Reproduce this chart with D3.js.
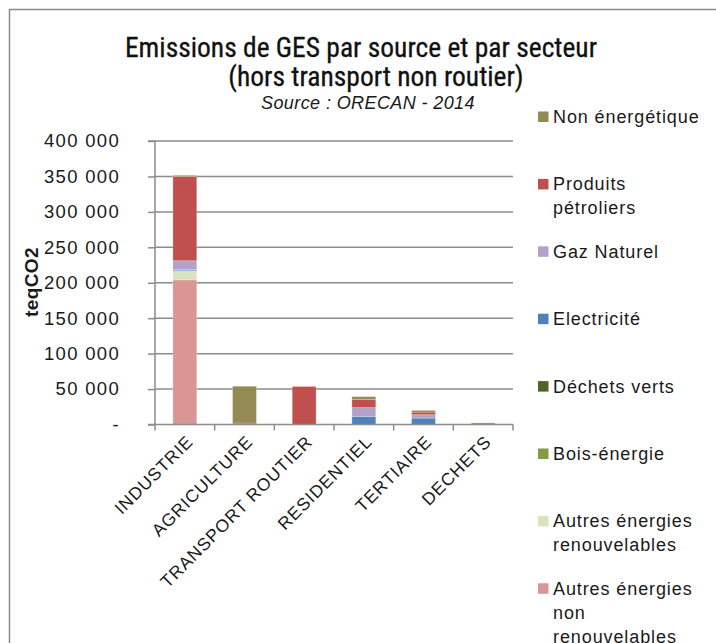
<!DOCTYPE html>
<html><head><meta charset="utf-8">
<script src="https://cdn.jsdelivr.net/npm/d3@7/dist/d3.min.js"></script>
<style>
html,body{margin:0;padding:0;background:#fff;overflow:hidden;}
svg{display:block;}
</style></head>
<body>
<svg id="chart" width="716" height="643"></svg>
<script>
// ---- data ----
const sectors = ["INDUSTRIE","AGRICULTURE","TRANSPORT ROUTIER","RESIDENTIEL","TERTIAIRE","DECHETS"];
const autresNonEnR   = [204000, 0, 0, 0, 0, 0];
const autresEnR      = [13000, 0, 0, 0, 0, 0];
const boisEnergie    = [0, 0, 0, 0, 0, 2200];
const dechetsVerts   = [0, 0, 0, 0, 0, 0];
const electricite    = [1500, 0, 0, 11500, 9000, 0];
const gazNaturel     = [12500, 0, 0, 12300, 4800, 0];
const petroliers     = [119000, 2000, 53600, 11700, 3700, 0];
const nonEnergetique = [1500, 52000, 0, 3800, 2400, 0];
const yTicks = [0, 50000, 100000, 150000, 200000, 250000, 300000, 350000, 400000];

const series = [
  {name:"Autres énergies non renouvelables", lines:["Autres énergies","non","renouvelables"], values:autresNonEnR, color:"#D99694"},
  {name:"Autres énergies renouvelables", lines:["Autres énergies","renouvelables"], values:autresEnR, color:"#D7E4BD"},
  {name:"Bois-énergie", lines:["Bois-énergie"], values:boisEnergie, color:"#7F9D44"},
  {name:"Déchets verts", lines:["Déchets verts"], values:dechetsVerts, color:"#4F6228"},
  {name:"Electricité", lines:["Electricité"], values:electricite, color:"#4F81BD"},
  {name:"Gaz Naturel", lines:["Gaz Naturel"], values:gazNaturel, color:"#B3A2C7"},
  {name:"Produits pétroliers", lines:["Produits","pétroliers"], values:petroliers, color:"#C0504D"},
  {name:"Non énergétique", lines:["Non énergétique"], values:nonEnergetique, color:"#948A54"}
];

const svg = d3.select("#chart");
const labelFont = "'Liberation Sans', Arial, sans-serif";
const titleFont = "'Roboto Condensed', 'Liberation Sans Narrow', 'Arial Narrow', sans-serif";

// outer frame
svg.append("rect").attr("x",9.5).attr("y",9.5).attr("width",740).attr("height",700)
  .attr("fill","none").attr("stroke","#8a8a8a").attr("stroke-width",1.5);

const x0 = 155, x1 = 513, yTop = 141, yBot = 424.5;
const x = d3.scaleBand().domain(sectors).range([x0, x1]).paddingInner(0.6).paddingOuter(0.3);
const y = d3.scaleLinear().domain([0, 400000]).range([yBot, yTop]);

// gridlines
svg.append("g").selectAll("line").data(yTicks.filter(d=>d>0)).join("line")
  .attr("x1", x0).attr("x2", x1).attr("y1", d=>y(d)).attr("y2", d=>y(d))
  .attr("stroke","#8c8c8c").attr("stroke-width",1.5);

// stacked bars
const rows = sectors.map((s,i)=>{ const r={sector:s}; series.forEach(se=>r[se.name]=se.values[i]); return r; });
const stack = d3.stack().keys(series.map(s=>s.name))(rows);
const gBars = svg.append("g");
stack.forEach((layer,k)=>{
  gBars.append("g").attr("fill", series[k].color).selectAll("rect").data(layer.filter(d=>d[1]>d[0])).join("rect")
    .attr("x", d=>x(d.data.sector))
    .attr("width", x.bandwidth())
    .attr("y", d=>y(d[1]))
    .attr("height", d=>Math.max(0, y(d[0])-y(d[1])))
    .attr("stroke","#ffffff").attr("stroke-opacity",0.3).attr("stroke-width",0.8);
});

// y axis
const yAxis = d3.axisLeft(y).tickValues(yTicks).tickSize(7).tickPadding(28)
  .tickFormat(d => d===0 ? "-" : d3.format(",")(d).replace(/,/g," "));
const gy = svg.append("g").attr("transform",`translate(${x0},0)`).call(yAxis);
gy.select(".domain").attr("stroke","#8c8c8c").attr("stroke-width",1.5).attr("d",`M-7,${yTop}H0V${yBot}H-7`);
gy.selectAll(".tick line").attr("stroke","#8c8c8c").attr("stroke-width",1.5);
gy.selectAll(".tick text").attr("font-family",labelFont).attr("font-size","18.5px")
  .attr("letter-spacing","1.3px").attr("fill","#1a1a1a");

// x axis baseline + ticks at boundaries
const bounds = d3.range(sectors.length+1).map(i=> x0 + i*(x1-x0)/sectors.length);
svg.append("line").attr("x1",x0).attr("x2",x1).attr("y1",yBot).attr("y2",yBot)
  .attr("stroke","#8c8c8c").attr("stroke-width",1.5);
svg.append("g").selectAll("line").data(bounds).join("line")
  .attr("x1",d=>d).attr("x2",d=>d).attr("y1",yBot).attr("y2",yBot+6)
  .attr("stroke","#8c8c8c").attr("stroke-width",1.5);

// x labels
svg.append("g").selectAll("text").data(sectors).join("text")
  .attr("transform", d=>`translate(${x(d)+x.bandwidth()/2+5},${yBot+14}) rotate(-45)`)
  .attr("text-anchor","end").attr("dy","0.35em")
  .attr("font-family",labelFont).attr("font-size","17.5px").attr("letter-spacing","0.9px").attr("fill","#1a1a1a")
  .text(d=>d);

// y title
svg.append("text").attr("transform","translate(38,282) rotate(-90)")
  .attr("text-anchor","middle").attr("font-family",labelFont).attr("font-weight","bold")
  .attr("font-size","19px").attr("letter-spacing","0.4px").attr("fill","#1a1a1a").text("teqCO2");

// title (two lines in one text element)
const title = svg.append("text").attr("text-anchor","middle")
  .attr("font-family",titleFont).attr("font-size","27.5px").attr("fill","#111")
  .attr("stroke","#111").attr("stroke-width",0.3);
title.append("tspan").attr("x",361).attr("y",57).text("Emissions de GES par source et par secteur");
title.append("tspan").attr("x",376).attr("y",85.5).text("(hors transport non routier)");
svg.append("text").attr("x",368).attr("y",109).attr("text-anchor","middle")
  .attr("font-family",labelFont).attr("font-style","italic").attr("font-size","18px")
  .attr("letter-spacing","0.4px").attr("fill","#1a1a1a")
  .text("Source : ORECAN - 2014");

// legend
const legendItems = series.slice().reverse();
const lg = svg.append("g");
legendItems.forEach((s,i)=>{
  const cy = 117 + i*67.4;
  lg.append("rect").attr("x",538).attr("y",cy-5.5).attr("width",10.5).attr("height",10.5).attr("fill",s.color);
  const t = lg.append("text").attr("font-family",labelFont).attr("font-size","18px")
    .attr("letter-spacing","0.9px").attr("fill","#1a1a1a");
  s.lines.forEach((ln,j)=>{
    t.append("tspan").attr("x",553).attr("y",cy+6+j*24).text(ln);
  });
});
</script>
</body></html>
